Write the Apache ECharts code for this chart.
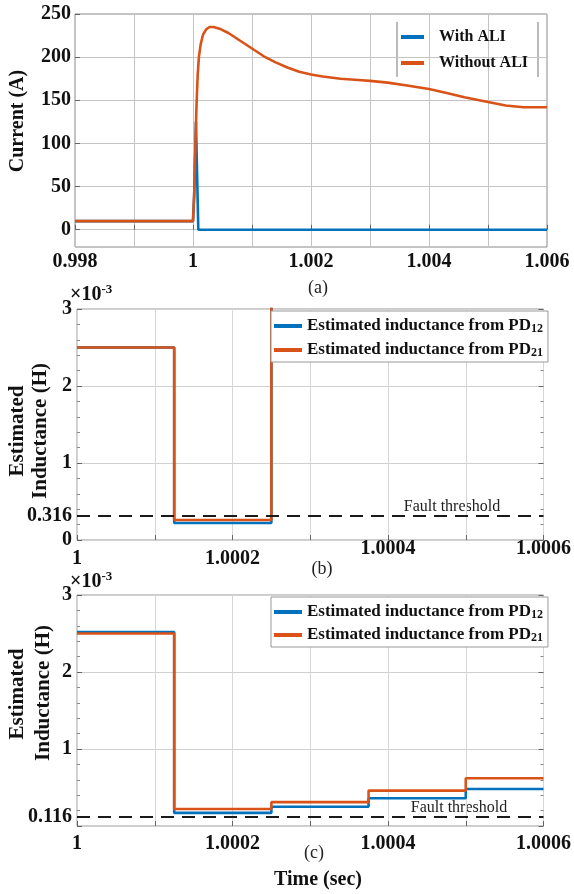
<!DOCTYPE html>
<html><head><meta charset="utf-8">
<script src="https://cdn.jsdelivr.net/npm/echarts@6/dist/echarts.min.js"></script>
<style>html,body{margin:0;padding:0;background:#fff}#c{width:574px;height:894px}</style>
</head><body><div id="c"></div>
<script>
// ---------- (a) current ----------
const tWithALI = [0.998, 1.0, 1.00002, 1.00004, 1.00005, 1.00009, 1.006];
const iWithALI = [10, 10, 40, 95, 125, 0, 0];
const tWithoutALI = [0.998, 1.0, 1.00002, 1.00004, 1.00006, 1.00008, 1.0001, 1.00013, 1.00017, 1.00022, 1.00028, 1.00035, 1.00045, 1.0006, 1.0008, 1.001, 1.0012, 1.0014, 1.0016, 1.0018, 1.002, 1.0022, 1.0025, 1.0028, 1.003, 1.0033, 1.0036, 1.004, 1.0043, 1.0046, 1.005, 1.0053, 1.0056, 1.006];
const iWithoutALI = [10, 10, 40, 95, 145, 180, 200, 215, 226, 232, 235, 235, 233, 228, 219, 210, 201, 194, 188, 183, 180, 177.5, 175, 173.5, 172.5, 170.5, 167.5, 163, 158.5, 153.5, 148, 144, 142, 142];
const yTicksA = [0, 50, 100, 150, 200, 250];

// ---------- (b) estimated inductance (x10^-3 H) ----------
const tB = [1, 1.000125, 1.00025, 1.0006];
const lB12 = [2.5, 0.22, 6, 6];
const lB21 = [2.5, 0.26, 6, 6];
const yTicksB = [0, 0.316, 1, 2, 3];

// ---------- (c) estimated inductance (x10^-3 H) ----------
const tC = [1, 1.000125, 1.00025, 1.000375, 1.0005, 1.0006];
const lC12 = [2.52, 0.17, 0.25, 0.36, 0.48, 0.48];
const lC21 = [2.5, 0.22, 0.31, 0.46, 0.62, 0.62];
const yTicksC = [0.116, 1, 2, 3];

const thresholds = [0.316, 0.116];
const names = ['With ALI', 'Without ALI', 'Estimated inductance from PD12', 'Estimated inductance from PD21'];

const BLUE = '#0072BD', ORANGE = '#D95319';
const FF = '"Liberation Serif", "Times New Roman", serif';
const zip = (xs, ys) => xs.map((x, i) => [x, ys[i]]);

const chart = echarts.init(document.getElementById('c'), null, {renderer: 'canvas'});

const gridBase = {show: true, borderColor: '#999', borderWidth: 1, backgroundColor: 'transparent'};
const labStyle = {fontFamily: FF, fontWeight: 'bold', fontSize: 20, color: '#111'};

function xAxisBC(idx, margin, rich) {
  return {
    gridIndex: idx, type: 'value', min: 1, max: 1.0006, interval: 0.0001,
    axisLine: {show: false},
    axisTick: {inside: true, length: 5, lineStyle: {color: '#666'}},
    splitLine: {show: true, lineStyle: {color: '#d6d6d6'}},
    axisLabel: Object.assign({}, labStyle, {
      margin: margin, showMinLabel: true, showMaxLabel: true,
      formatter: function (v) {
        const k = Math.round(v * 10000);
        if (k % 2 !== 0) return '';
        const s = String(+v.toFixed(4));
        if (rich) return (k <= 10002 ? '{lo|' : '{hi|') + s + '}';
        return s;
      },
      rich: rich ? {lo: Object.assign({}, labStyle, {padding: [10, 0, 0, 0]}), hi: Object.assign({}, labStyle)} : undefined
    })
  };
}
function yAxisBC(idx, ticks) {
  return [{
    gridIndex: idx, type: 'value', min: 0, max: 3, interval: 1,
    axisLine: {show: false},
    axisTick: {inside: true, length: 5, lineStyle: {color: '#666'}},
    minorTick: {show: true, splitNumber: 5, length: 3, lineStyle: {color: '#888'}},
    splitLine: {show: true, lineStyle: {color: '#d0d0d0'}},
    axisLabel: Object.assign({}, labStyle, {margin: 5, customValues: ticks, formatter: v => String(v)})
  }, {
    gridIndex: idx, type: 'value', position: 'right', min: 0, max: 3, interval: 1,
    axisLine: {show: false}, axisLabel: {show: false}, splitLine: {show: false},
    axisTick: {inside: true, length: 5, lineStyle: {color: '#666'}},
    minorTick: {show: true, splitNumber: 5, length: 3, lineStyle: {color: '#888'}}
  }];
}
function lineSeries(name, xi, yi, data, color, extra) {
  return Object.assign({
    type: 'line', name: name, xAxisIndex: xi, yAxisIndex: yi, data: data,
    symbol: 'none', showSymbol: false, clip: true, animation: false,
    lineStyle: {width: 2.6, color: color}, itemStyle: {color: color}
  }, extra || {});
}
function threshLine(v) {
  return {silent: true, symbol: 'none', animation: false, label: {show: false},
    lineStyle: {type: [13, 8], color: '#1a1a1a', width: 2}, data: [{yAxis: v}]};
}
const subFmt = n => n.replace(/PD(\d+)$/, 'PD{sub|$1}');
const legendText = {fontFamily: FF, fontWeight: 'bold', fontSize: 17, lineHeight: 18, color: '#111',
  rich: {sub: {fontFamily: FF, fontWeight: 'bold', fontSize: 12, lineHeight: 12, verticalAlign: 'bottom', color: '#111'}}};
const supRich = {
  b: {fontFamily: FF, fontWeight: 'bold', fontSize: 20, lineHeight: 22, verticalAlign: 'bottom', fill: '#111'},
  s: {fontFamily: FF, fontWeight: 'bold', fontSize: 13, lineHeight: 14, verticalAlign: 'top', fill: '#111'}
};

const option = {
  backgroundColor: '#fff',
  animation: false,
  grid: [
    Object.assign({left: 75, top: 14, width: 472, height: 233}, gridBase, {borderColor: '#888'}),
    Object.assign({left: 77, top: 309, width: 470, height: 231}, gridBase),
    Object.assign({left: 77, top: 595, width: 470, height: 231}, gridBase)
  ],
  xAxis: [
    {
      gridIndex: 0, type: 'value', min: 0.998, max: 1.006, interval: 0.001,
      axisLine: {show: false},
      axisTick: {inside: true, length: 5, lineStyle: {color: '#666'}},
      splitLine: {show: true, lineStyle: {color: '#c4c4c4'}},
      axisLabel: Object.assign({}, labStyle, {
        margin: 5, showMinLabel: true, showMaxLabel: true,
        formatter: function (v) {
          const k = Math.round(v * 1000);
          return k % 2 === 0 ? String(+v.toFixed(3)) : '';
        }
      })
    },
    xAxisBC(1, -1, true),
    xAxisBC(2, 8, false)
  ],
  yAxis: [
    {
      gridIndex: 0, type: 'value', min: -20, max: 250,
      axisLine: {show: false},
      axisTick: {inside: true, length: 5, customValues: yTicksA, lineStyle: {color: '#666'}},
      splitLine: {show: true, lineStyle: {color: '#c4c4c4'}},
      axisLabel: Object.assign({}, labStyle, {margin: 4, customValues: yTicksA})
    }
  ].concat(yAxisBC(1, yTicksB), yAxisBC(2, yTicksC)),
  legend: [
    {
      data: [names[0], names[1]], orient: 'vertical', left: 401, top: 28, padding: 0, itemGap: 8,
      icon: 'rect', itemWidth: 23, itemHeight: 4, selectedMode: false,
      textStyle: Object.assign({}, legendText, {fontSize: 16, padding: [0, 0, 0, 10]})
    },
    {
      data: [names[2], names[3]], orient: 'vertical', left: 271, top: 311, padding: [6, 5, 3, 3], itemGap: 6,
      backgroundColor: '#fff', borderColor: '#999', borderWidth: 1, borderRadius: 0,
      icon: 'rect', itemWidth: 28, itemHeight: 4, selectedMode: false,
      formatter: subFmt, textStyle: legendText
    },
    {
      data: [names[2], names[3]], orient: 'vertical', left: 271, top: 597, padding: [6, 5, 3, 3], itemGap: 5,
      backgroundColor: '#fff', borderColor: '#999', borderWidth: 1, borderRadius: 0,
      icon: 'rect', itemWidth: 28, itemHeight: 4, selectedMode: false,
      formatter: subFmt, textStyle: legendText
    }
  ],
  series: [
    lineSeries(names[0], 0, 0, zip(tWithALI, iWithALI), BLUE),
    lineSeries(names[1], 0, 0, zip(tWithoutALI, iWithoutALI), ORANGE),
    lineSeries(names[2], 1, 1, zip(tB, lB12), BLUE, {step: 'end'}),
    lineSeries(names[3], 1, 1, zip(tB, lB21), ORANGE, {step: 'end', markLine: threshLine(thresholds[0])}),
    lineSeries(names[2], 2, 3, zip(tC, lC12), BLUE, {step: 'end'}),
    lineSeries(names[3], 2, 3, zip(tC, lC21), ORANGE, {step: 'end', markLine: threshLine(thresholds[1])})
  ],
  graphic: [
    {type: 'text', x: 18, y: 121, rotation: Math.PI / 2, style: {text: 'Current (A)', fontFamily: FF, fontWeight: 'bold', fontSize: 20, fill: '#111', align: 'center', verticalAlign: 'middle'}},
    {type: 'text', x: 18, y: 431, rotation: Math.PI / 2, style: {text: 'Estimated', fontFamily: FF, fontWeight: 'bold', fontSize: 21, fill: '#111', align: 'center', verticalAlign: 'middle'}},
    {type: 'text', x: 41, y: 431, rotation: Math.PI / 2, style: {text: 'Inductance (H)', fontFamily: FF, fontWeight: 'bold', fontSize: 21, fill: '#111', align: 'center', verticalAlign: 'middle'}},
    {type: 'text', x: 18, y: 694, rotation: Math.PI / 2, style: {text: 'Estimated', fontFamily: FF, fontWeight: 'bold', fontSize: 21, fill: '#111', align: 'center', verticalAlign: 'middle'}},
    {type: 'text', x: 44, y: 693, rotation: Math.PI / 2, style: {text: 'Inductance (H)', fontFamily: FF, fontWeight: 'bold', fontSize: 21, fill: '#111', align: 'center', verticalAlign: 'middle'}},
    {type: 'text', x: 70, y: 283, style: {text: '{b|×10}{s|-3}', rich: supRich}},
    {type: 'text', x: 70, y: 570, style: {text: '{b|×10}{s|-3}', rich: supRich}},
    {type: 'text', x: 318, y: 288, style: {text: '(a)', fontFamily: FF, fontSize: 18, fill: '#222', align: 'center', verticalAlign: 'middle'}},
    {type: 'text', x: 322, y: 569, style: {text: '(b)', fontFamily: FF, fontSize: 18, fill: '#222', align: 'center', verticalAlign: 'middle'}},
    {type: 'text', x: 314, y: 853, style: {text: '(c)', fontFamily: FF, fontSize: 18, fill: '#222', align: 'center', verticalAlign: 'middle'}},
    {type: 'text', x: 318, y: 880, style: {text: 'Time (sec)', fontFamily: FF, fontWeight: 'bold', fontSize: 20, fill: '#111', align: 'center', verticalAlign: 'middle'}},
    {type: 'text', x: 452, y: 507, style: {text: 'Fault threshold', fontFamily: FF, fontSize: 16, fill: '#222', align: 'center', verticalAlign: 'middle'}},
    {type: 'text', x: 459, y: 808, style: {text: 'Fault threshold', fontFamily: FF, fontSize: 16, fill: '#222', align: 'center', verticalAlign: 'middle'}},
    {type: 'line', shape: {x1: 397, y1: 22, x2: 397, y2: 77}, style: {stroke: '#777', lineWidth: 1}},
    {type: 'line', shape: {x1: 538, y1: 22, x2: 538, y2: 77}, style: {stroke: '#777', lineWidth: 1}}
  ]
};
chart.setOption(option);
</script>
</body></html>
